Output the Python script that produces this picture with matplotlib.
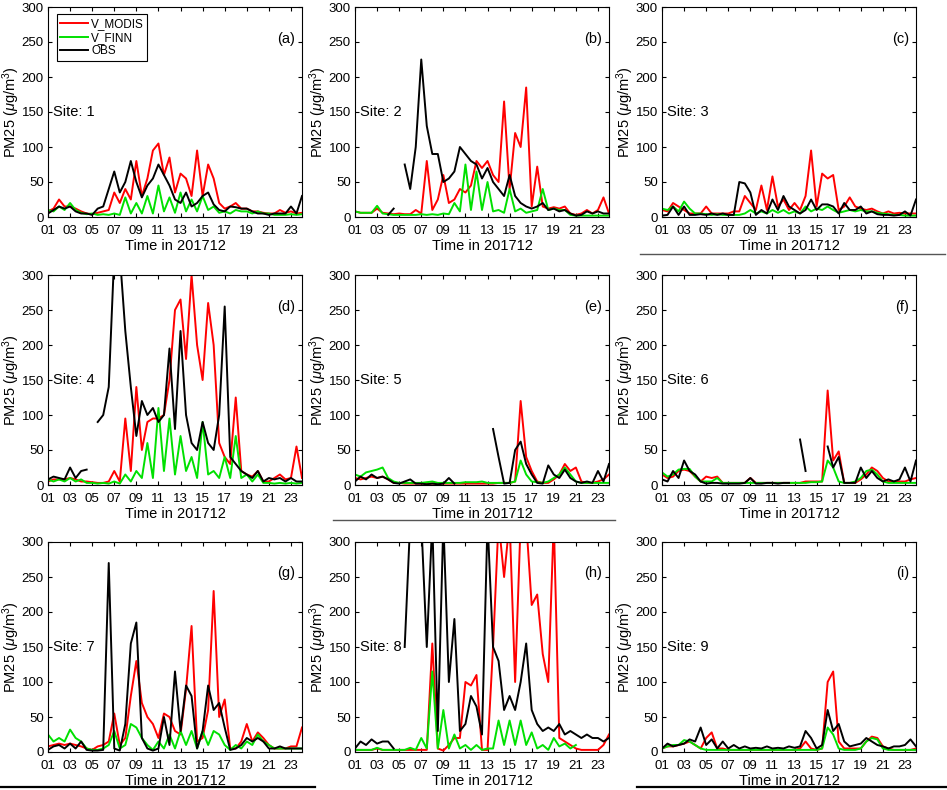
import numpy as np
import matplotlib
matplotlib.use('Agg')
from matplotlib import pyplot as plt
from matplotlib.lines import Line2D

nan = np.nan
# half-day samples, 01 Dec 00h .. 24 Dec 00h
days = np.arange(1, 24.01, 0.5)

# ---- site 1 ----
modis_1 = [8, 12, 25, 15, 15, 12, 8, 5, 4, 6,
           8, 10, 35, 20, 40, 25, 80, 30, 55, 95,
           105, 60, 85, 35, 62, 55, 30, 95, 30, 75,
           55, 20, 12, 15, 20, 12, 12, 8, 8, 6,
           5, 5, 10, 6, 8, 5, 6]
finn_1 = [10, 8, 15, 10, 20, 10, 6, 4, 5, 3,
          4, 3, 5, 3, 28, 5, 20, 5, 30, 5,
          45, 8, 28, 6, 35, 8, 25, 8, 30, 10,
          15, 6, 8, 5, 10, 8, 8, 5, 8, 5,
          5, 3, 3, 3, 4, 3, 4]
obs_1 = [5, 10, 15, 12, 15, 8, 5, 5, 3, 12,
         15, 40, 65, 35, 50, 80, 50, 28, 45, 55,
         75, 60, 45, 25, 20, 35, 15, 20, 30, 35,
         18, 10, 8, 15, 14, 12, 12, 8, 5, 5,
         3, 5, 5, 5, 15, 5, 30]

# ---- site 2 ----
modis_2 = [8, 6, 6, 6, 12, 6, 5, 4, 5, 4,
           4, 10, 5, 80, 10, 25, 60, 20, 25, 40,
           35, 45, 80, 70, 80, 60, 50, 165, 40, 120,
           100, 185, 15, 72, 15, 12, 14, 12, 15, 5,
           3, 5, 10, 5, 10, 28, 5]
finn_2 = [8, 6, 6, 6, 16, 5, 4, 3, 3, 3,
          3, 3, 4, 3, 4, 3, 5, 4, 20, 8,
          75, 10, 65, 10, 50, 8, 10, 6, 40, 8,
          12, 6, 8, 10, 40, 10, 12, 10, 10, 3,
          2, 2, 2, 2, 2, 2, 2]
obs_2 = [nan, nan, nan, nan, nan, nan, 3, 12, nan, 75,
         40, 100, 225, 130, 90, 90, 50, 55, 65, 100,
         90, 80, 75, 55, 70, 50, 40, 30, 60, 30,
         20, 15, 12, 15, 20, 10, 12, 8, 10, 5,
         2, 3, 8, 5, 8, 5, 5]

# ---- site 3 ----
modis_3 = [10, 8, 20, 15, 10, 5, 5, 5, 15, 5,
           5, 5, 5, 8, 8, 30, 20, 10, 45, 10,
           58, 15, 25, 10, 20, 10, 30, 95, 15, 62,
           55, 60, 10, 15, 28, 15, 12, 10, 12, 8,
           5, 8, 5, 6, 5, 5, 5]
finn_3 = [12, 10, 15, 8, 22, 12, 5, 5, 4, 3,
          4, 3, 3, 3, 3, 5, 10, 5, 8, 5,
          10, 6, 10, 5, 8, 5, 15, 8, 12, 10,
          15, 10, 6, 8, 10, 8, 10, 8, 8, 6,
          5, 4, 3, 3, 2, 2, 2]
obs_3 = [2, 3, 15, 3, 15, 3, 3, 4, 3, 5,
         3, 5, 3, 3, 50, 48, 35, 3, 10, 5,
         25, 10, 30, 15, 10, 5, 10, 25, 10, 18,
         18, 15, 5, 20, 10, 10, 15, 5, 8, 4,
         3, 3, 2, 3, 8, 2, 25]

# ---- site 4 ----
modis_4 = [5, 8, 8, 8, 10, 8, 5, 5, 4, 3,
           3, 5, 20, 5, 95, 20, 140, 50, 90, 95,
           95, 100, 150, 250, 265, 180, 300, 200, 150, 260,
           200, 60, 40, 30, 125, 20, 15, 12, 20, 5,
           5, 10, 15, 8, 10, 55, 10]
finn_4 = [8, 5, 8, 5, 10, 5, 8, 3, 3, 2,
          3, 2, 5, 2, 15, 5, 20, 10, 60, 10,
          110, 20, 95, 15, 70, 20, 40, 10, 90, 15,
          20, 10, 40, 10, 70, 10, 15, 5, 15, 3,
          3, 2, 3, 2, 3, 2, 3]
obs_4 = [8, 12, 10, 8, 25, 10, 20, 22, nan, 90,
         100, 140, 330, 330, 220, 140, 70, 120, 100, 110,
         90, 100, 195, 80, 220, 100, 60, 50, 90, 60,
         50, 100, 255, 40, 30, 20, 15, 10, 20, 5,
         10, 8, 10, 5, 10, 5, 5]

# ---- site 5 ----
modis_5 = [10, 8, 10, 12, 10, 12, 8, 3, 3, 2,
           2, 2, 2, 2, 2, 2, 2, 2, 2, 2,
           2, 2, 2, 2, 2, 2, 3, 3, 3, 5,
           120, 40, 20, 5, 3, 3, 8, 15, 30, 20,
           25, 5, 3, 3, 5, 8, 15]
finn_5 = [15, 12, 18, 20, 22, 25, 10, 5, 3, 3,
          3, 3, 3, 4, 5, 3, 3, 3, 3, 3,
          4, 4, 4, 5, 3, 3, 3, 3, 3, 5,
          35, 15, 5, 4, 3, 5, 10, 15, 25, 15,
          5, 3, 3, 3, 3, 3, 3]
obs_5 = [5, 12, 8, 15, 10, 12, 8, 3, 2, 5,
         8, 2, 2, 1, 2, 1, 2, 10, 2, nan,
         nan, nan, nan, nan, nan, 80, 40, 2, 3, 50,
         62, 30, 15, 3, 2, 28, 15, 10, 22, 10,
         5, 3, 5, 3, 20, 5, 30]

# ---- site 6 ----
modis_6 = [15, 10, 12, 20, 22, 20, 12, 5, 12, 10,
           12, 3, 3, 3, 3, 3, 10, 3, 3, 3,
           3, 3, 3, 3, 3, 3, 5, 5, 5, 5,
           135, 35, 48, 3, 3, 3, 8, 15, 25, 20,
           10, 5, 5, 5, 5, 8, 10]
finn_6 = [18, 12, 15, 22, 23, 23, 12, 5, 5, 5,
          10, 3, 3, 3, 3, 3, 3, 3, 3, 3,
          3, 3, 3, 3, 3, 3, 3, 4, 4, 5,
          35, 25, 5, 3, 3, 5, 10, 20, 22, 15,
          5, 3, 3, 3, 3, 3, 3]
obs_6 = [8, 5, 20, 10, 35, 20, 15, 5, 2, 3,
         3, 2, 2, 2, 2, 3, 10, 2, 2, 3,
         3, 2, 3, 3, nan, 65, 20, nan, nan, nan,
         55, 25, 40, 3, 3, 3, 25, 10, 20, 10,
         5, 8, 5, 8, 25, 5, 35]

# ---- site 7 ----
modis_7 = [8, 10, 12, 10, 12, 10, 8, 5, 3, 8,
           10, 15, 55, 10, 20, 80, 130, 70, 50, 40,
           20, 55, 50, 30, 25, 90, 180, 15, 20, 60,
           230, 50, 75, 5, 5, 15, 40, 15, 28, 20,
           10, 5, 5, 5, 8, 8, 35]
finn_7 = [25, 15, 20, 15, 32, 20, 15, 5, 3, 3,
          5, 10, 30, 5, 10, 40, 35, 20, 10, 3,
          15, 5, 25, 5, 30, 10, 30, 5, 30, 10,
          30, 25, 10, 3, 10, 5, 15, 10, 25, 15,
          10, 5, 5, 5, 5, 5, 5]
obs_7 = [3, 8, 10, 5, 12, 5, 15, 3, 2, 2,
         3, 270, 5, 2, 40, 155, 185, 20, 5, 2,
         5, 50, 10, 115, 30, 95, 80, 5, 30, 95,
         60, 70, 35, 3, 5, 10, 20, 15, 20, 15,
         5, 5, 8, 5, 5, 5, 5]

# ---- site 8 ----
modis_8 = [3, 3, 3, 3, 5, 3, 3, 3, 3, 3,
           3, 3, 3, 3, 155, 5, 2, 10, 20, 20,
           100, 95, 110, 3, 3, 150, 330, 250, 330, 100,
           330, 330, 210, 225, 140, 100, 330, 20, 15, 10,
           5, 3, 3, 3, 3, 10, 25]
finn_8 = [3, 3, 3, 3, 6, 3, 3, 3, 3, 3,
          6, 3, 20, 5, 115, 5, 60, 5, 25, 5,
          10, 3, 10, 3, 5, 5, 45, 10, 45, 10,
          45, 10, 28, 5, 10, 3, 20, 8, 12, 5,
          10, nan, nan, nan, nan, nan, nan]
obs_8 = [5, 15, 10, 18, 12, 15, 15, 5, nan, 150,
         330, 330, 330, 150, 330, 30, 330, 100, 190, 30,
         40, 80, 65, 25, 330, 150, 130, 60, 80, 60,
         100, 155, 60, 40, 30, 35, 30, 40, 25, 30,
         25, 20, 25, 20, 20, 15, 20]

# ---- site 9 ----
modis_9 = [5, 8, 8, 10, 12, 15, 10, 5, 20, 28,
           5, 5, 3, 3, 3, 3, 3, 3, 3, 3,
           3, 3, 3, 3, 3, 5, 15, 5, 3, 5,
           100, 115, 15, 5, 5, 5, 5, 15, 22, 20,
           8, 5, 3, 3, 3, 3, 5]
finn_9 = [5, 8, 10, 10, 17, 15, 10, 5, 3, 3,
          3, 3, 3, 3, 3, 3, 3, 3, 3, 3,
          3, 3, 3, 3, 3, 3, 3, 3, 3, 5,
          35, 25, 5, 3, 3, 3, 5, 15, 20, 18,
          5, 3, 3, 3, 3, 3, 3]
obs_9 = [5, 12, 8, 10, 12, 18, 15, 35, 10, 18,
         5, 15, 5, 10, 5, 8, 5, 6, 5, 8,
         5, 6, 5, 8, 6, 8, 30, 20, 5, 10,
         60, 30, 40, 15, 8, 10, 12, 20, 15, 10,
         8, 5, 8, 8, 10, 18, 8]

sites = [(modis_1, finn_1, obs_1), (modis_2, finn_2, obs_2), (modis_3, finn_3, obs_3),
         (modis_4, finn_4, obs_4), (modis_5, finn_5, obs_5), (modis_6, finn_6, obs_6),
         (modis_7, finn_7, obs_7), (modis_8, finn_8, obs_8), (modis_9, finn_9, obs_9)]
letters = 'abcdefghi'
xticks = list(range(1, 24, 2))
xlabels = ['%02d' % d for d in xticks]

plt.rcParams['font.family'] = 'Liberation Sans'
plt.rcParams['mathtext.fontset'] = 'custom'
plt.rcParams['mathtext.rm'] = 'Liberation Sans'
plt.rcParams['mathtext.it'] = 'Liberation Sans:italic'

W, H = 947, 790
fig = plt.figure(figsize=(W / 100, H / 100), dpi=100)
lefts = [48, 355, 662]
tops = [7, 275, 542]

for k in range(9):
    r, c = divmod(k, 3)
    ax = fig.add_axes([lefts[c] / W, (H - tops[r] - 210) / H, 254 / W, 210 / H])
    m, f, o = sites[k]
    ax.plot(days, m, color=(1, 0, 0), lw=1.4, label='V_MODIS')
    ax.plot(days, f, color=(0, 0.88, 0), lw=1.4, label='V_FINN')
    ax.plot(days, o, color='k', lw=1.4, label='OBS')
    ax.set_xlim(1, 24)
    ax.set_ylim(0, 300)
    ax.set_xticks(xticks)
    ax.set_xticklabels(xlabels)
    ax.set_yticks(range(0, 301, 50))
    ax.tick_params(direction='in', top=True, right=True, labelsize=9.5,
                   length=3, width=0.8)
    ax.tick_params(axis='x', pad=5.5)
    ax.tick_params(axis='y', pad=3)
    for s in ax.spines.values():
        s.set_linewidth(0.8)
    ax.set_xlabel('Time in 201712', fontsize=10.5, labelpad=2)
    ax.set_ylabel(r'PM25 ($\mu$g/m$^3$)', fontsize=10.5, labelpad=-0.5)
    ax.text(1.45, 150, 'Site: %d' % (k + 1), fontsize=10.5, va='center')
    ax.text(23.4, 255, '(%s)' % letters[k], fontsize=10.5, ha='right', va='center')
    if k == 0:
        leg = ax.legend(loc='upper left', bbox_to_anchor=(0.035, 0.965), fancybox=False,
                        edgecolor='k', fontsize=8.5, handlelength=2.3, handletextpad=0.3,
                        borderpad=0.3, labelspacing=0.15, borderaxespad=0, framealpha=1)
        leg.get_frame().set_linewidth(0.8)

# separator rules left over from the page layout
def rule(x0, x1, y, color, lw):
    fig.add_artist(Line2D([x0 / W, x1 / W], [1 - y / H, 1 - y / H], color=color, lw=lw))

rule(640, 945, 254, '#555555', 1.0)
rule(333, 615, 520, '#555555', 1.0)
rule(0, 315, 787, 'k', 1.6)
rule(637, 947, 787, 'k', 1.6)

fig.savefig('out.png', dpi=100)
